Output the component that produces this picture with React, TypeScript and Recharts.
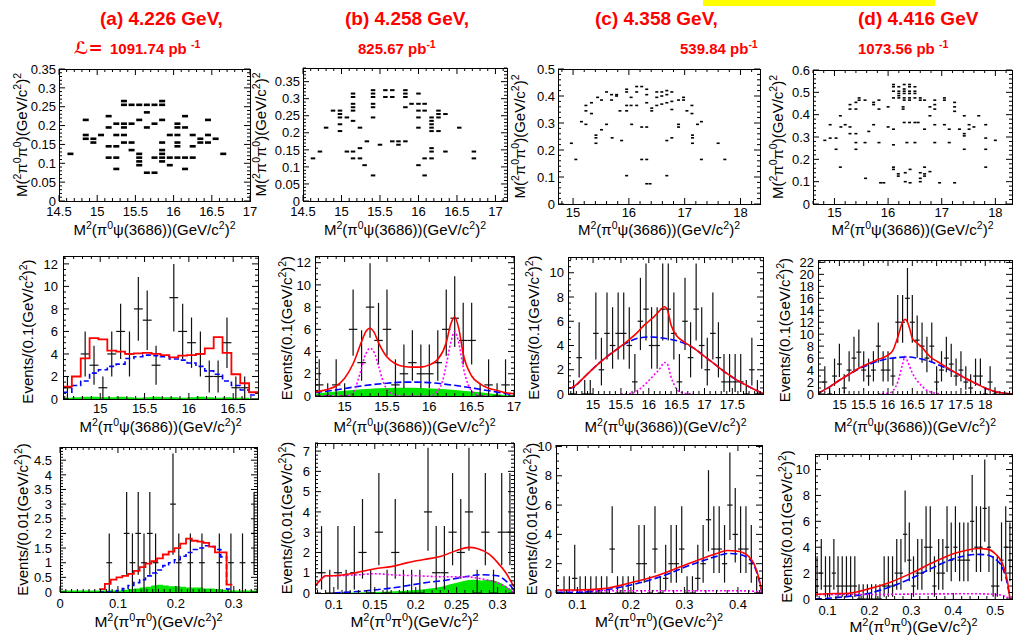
import React from 'react';
import { Area, ComposedChart, ErrorBar, Line, Scatter, XAxis, YAxis } from 'recharts';

const FONT = '"Liberation Sans", Arial, Helvetica, sans-serif';

type XY = [number, number];

// ---------- row 1: Dalitz plots (x = M2(pi0 psi'), y = M2(pi0 pi0)) ----------
const dalitzA: XY[] = [
  [14.65, 0.125], [14.85, 0.215], [14.85, 0.175], [14.85, 0.165], [14.95, 0.165], [14.95, 0.155], [15.05, 0.175],
  [15.15, 0.225], [15.15, 0.195], [15.15, 0.145], [15.15, 0.115],
  [15.25, 0.205], [15.25, 0.175], [15.25, 0.145], [15.25, 0.115], [15.25, 0.085],
  [15.35, 0.265], [15.35, 0.255], [15.35, 0.205], [15.35, 0.195], [15.35, 0.175], [15.35, 0.155],
  [15.45, 0.255], [15.45, 0.205], [15.45, 0.155], [15.45, 0.135],
  [15.55, 0.255], [15.55, 0.215], [15.55, 0.125], [15.55, 0.115], [15.55, 0.105], [15.55, 0.095],
  [15.65, 0.255], [15.65, 0.235], [15.65, 0.195], [15.65, 0.075],
  [15.75, 0.255], [15.75, 0.205], [15.75, 0.115], [15.75, 0.075],
  [15.85, 0.265], [15.85, 0.255], [15.85, 0.215], [15.85, 0.155], [15.85, 0.135], [15.85, 0.125], [15.85, 0.115], [15.85, 0.105],
  [15.95, 0.175], [15.95, 0.115], [15.95, 0.095],
  [16.05, 0.205], [16.05, 0.195], [16.05, 0.175], [16.05, 0.155], [16.05, 0.145], [16.05, 0.115],
  [16.15, 0.225], [16.15, 0.195], [16.15, 0.115], [16.15, 0.085],
  [16.25, 0.175], [16.25, 0.145], [16.25, 0.115], [16.35, 0.165], [16.35, 0.155],
  [16.45, 0.215], [16.45, 0.175], [16.45, 0.155], [16.55, 0.165], [16.65, 0.125],
];

const dalitzB: XY[] = [
  [14.63, 0.125], [14.72, 0.145], [14.8, 0.215], [14.89, 0.265],
  [14.98, 0.265], [14.98, 0.255], [14.98, 0.245], [14.98, 0.225], [14.98, 0.205], [15.07, 0.245], [15.07, 0.145],
  [15.15, 0.315], [15.15, 0.305], [15.15, 0.285], [15.15, 0.275], [15.15, 0.265], [15.15, 0.235], [15.15, 0.145], [15.15, 0.125],
  [15.24, 0.215], [15.24, 0.155], [15.24, 0.125], [15.3, 0.105], [15.33, 0.175],
  [15.41, 0.325], [15.41, 0.315], [15.41, 0.305], [15.41, 0.285], [15.41, 0.275], [15.41, 0.245], [15.41, 0.075],
  [15.5, 0.165], [15.57, 0.325], [15.57, 0.305], [15.66, 0.175], [15.66, 0.325], [15.66, 0.305], [15.74, 0.165], [15.74, 0.175],
  [15.83, 0.325], [15.83, 0.315], [15.83, 0.305], [15.83, 0.275], [15.83, 0.175], [15.91, 0.285],
  [16.0, 0.315], [16.0, 0.285], [16.0, 0.265], [16.0, 0.245], [16.0, 0.215], [16.0, 0.105],
  [16.08, 0.285], [16.08, 0.265], [16.08, 0.125], [16.08, 0.075],
  [16.17, 0.245], [16.17, 0.235], [16.17, 0.225], [16.17, 0.215], [16.17, 0.205], [16.17, 0.155], [16.17, 0.145], [16.17, 0.125],
  [16.26, 0.265], [16.26, 0.255], [16.26, 0.245], [16.26, 0.205], [16.35, 0.255], [16.35, 0.145],
  [16.53, 0.215], [16.72, 0.145], [16.72, 0.125],
];

const dalitzC: XY[] = [
  [14.97, 0.225], [15.05, 0.165], [15.15, 0.305], [15.23, 0.365], [15.23, 0.345], [15.23, 0.295],
  [15.33, 0.375], [15.33, 0.335], [15.41, 0.255], [15.41, 0.245], [15.41, 0.225], [15.44, 0.395],
  [15.51, 0.385], [15.51, 0.275], [15.6, 0.415], [15.6, 0.295], [15.69, 0.405], [15.69, 0.385], [15.7, 0.245],
  [15.78, 0.405], [15.78, 0.4], [15.84, 0.345], [15.87, 0.235],
  [15.96, 0.425], [15.96, 0.415], [15.96, 0.365], [15.96, 0.345], [15.96, 0.105],
  [16.04, 0.395], [16.04, 0.365], [16.05, 0.295], [16.14, 0.435], [16.14, 0.415], [16.14, 0.365],
  [16.23, 0.435], [16.23, 0.285], [16.23, 0.165],
  [16.32, 0.425], [16.32, 0.405], [16.32, 0.375], [16.32, 0.285], [16.32, 0.165], [16.32, 0.075], [16.38, 0.075],
  [16.41, 0.355], [16.41, 0.345], [16.5, 0.415], [16.5, 0.395], [16.5, 0.365],
  [16.59, 0.415], [16.59, 0.4], [16.59, 0.37], [16.68, 0.42], [16.68, 0.405], [16.68, 0.375], [16.68, 0.235], [16.68, 0.105],
  [16.77, 0.415], [16.77, 0.38], [16.77, 0.35], [16.77, 0.245], [16.89, 0.385], [16.89, 0.295], [16.89, 0.285],
  [16.98, 0.395], [16.98, 0.385], [17.04, 0.345], [17.13, 0.365], [17.13, 0.335],
  [17.14, 0.255], [17.14, 0.245], [17.14, 0.225], [17.23, 0.295], [17.3, 0.305], [17.3, 0.165], [17.6, 0.225], [17.72, 0.165],
];

const dalitzD: XY[] = [
  [14.82, 0.285], [14.92, 0.355], [14.92, 0.295], [15.03, 0.295], [15.03, 0.245], [15.11, 0.395], [15.11, 0.165], [15.12, 0.345],
  [15.2, 0.355], [15.29, 0.445], [15.29, 0.425], [15.29, 0.345], [15.29, 0.315],
  [15.4, 0.455], [15.4, 0.425], [15.4, 0.315], [15.4, 0.275], [15.4, 0.245], [15.46, 0.475], [15.46, 0.465],
  [15.57, 0.465], [15.57, 0.275], [15.58, 0.115], [15.64, 0.325], [15.73, 0.455], [15.73, 0.445], [15.73, 0.355],
  [15.83, 0.465], [15.83, 0.425], [15.83, 0.275], [15.86, 0.095], [15.92, 0.095], [16.0, 0.435], [16.0, 0.345],
  [16.1, 0.535], [16.1, 0.525], [16.1, 0.505], [16.1, 0.475],
  [16.2, 0.525], [16.2, 0.505], [16.2, 0.495], [16.2, 0.485], [16.2, 0.475],
  [16.3, 0.535], [16.3, 0.515], [16.3, 0.505], [16.3, 0.495], [16.3, 0.475], [16.3, 0.465],
  [16.4, 0.535], [16.4, 0.525], [16.4, 0.505], [16.4, 0.495], [16.4, 0.475], [16.4, 0.465],
  [16.5, 0.525], [16.5, 0.505], [16.5, 0.495], [16.5, 0.475], [16.6, 0.475], [16.6, 0.465],
  [16.1, 0.335], [16.1, 0.265], [16.1, 0.165], [16.1, 0.155], [16.19, 0.135], [16.19, 0.125], [16.28, 0.435], [16.28, 0.425],
  [16.3, 0.365], [16.4, 0.365], [16.5, 0.365], [16.56, 0.365], [16.32, 0.14], [16.32, 0.1], [16.41, 0.155], [16.41, 0.095],
  [16.35, 0.275], [16.5, 0.275], [16.6, 0.14], [16.6, 0.115], [16.6, 0.1], [16.68, 0.165], [16.68, 0.135], [16.68, 0.125],
  [16.68, 0.465], [16.68, 0.335], [16.78, 0.435], [16.78, 0.395], [16.78, 0.145],
  [16.87, 0.465], [16.87, 0.445], [16.87, 0.425], [16.87, 0.355], [16.87, 0.275], [16.96, 0.095],
  [17.05, 0.475], [17.05, 0.465], [17.05, 0.355], [17.14, 0.335], [17.14, 0.275],
  [17.24, 0.455], [17.24, 0.435], [17.24, 0.415], [17.24, 0.095], [17.33, 0.335],
  [17.42, 0.395], [17.42, 0.315], [17.42, 0.305], [17.42, 0.245], [17.51, 0.355], [17.51, 0.335], [17.6, 0.345], [17.69, 0.395],
  [17.82, 0.355], [17.82, 0.295], [17.82, 0.245], [17.82, 0.165], [18.0, 0.285],
];

// ---------- row 2: M2(pi0 psi') projections ----------
const countsA2: XY[] = [
  [14.63, 1], [14.83, 4], [14.93, 3], [15.03, 1], [15.13, 4], [15.23, 6], [15.33, 4], [15.43, 8], [15.53, 7], [15.63, 3],
  [15.83, 9], [15.93, 6], [16.03, 5], [16.13, 4], [16.23, 2], [16.33, 2], [16.43, 5], [16.53, 1], [16.63, 1],
];
const histStartA2 = 14.58;
const histBinA2 = 0.1;
const totalA2 = [1.1, 2.0, 3.6, 5.4, 5.3, 4.3, 4.2, 4.0, 4.05, 4.1, 4.0, 3.9, 3.7, 3.85, 3.9, 4.0, 4.5, 5.5, 4.1, 2.2, 1.4, 0.6];
const bkgA2 = [0.6, 1.2, 1.6, 2.3, 2.6, 2.9, 3.1, 3.6, 3.75, 3.9, 3.85, 3.75, 3.55, 3.45, 3.2, 2.9, 2.5, 2.2, 1.6, 1.2, 0.8, 0.35];
const greenA2 = [0.1, 0.15, 0.2, 0.2, 0.15, 0.15, 0.2, 0.15, 0.1, 0.15, 0.2, 0.15, 0.15, 0.1, 0.15, 0.2, 0.15, 0.1, 0.15, 0.1, 0.1, 0.05];

const countsB2: XY[] = [
  [14.7, 1], [14.8, 0], [14.9, 1], [15.0, 0], [15.1, 6], [15.2, 3], [15.3, 8], [15.4, 5], [15.5, 6], [15.6, 1], [15.7, 2],
  [15.8, 3], [15.9, 2], [16.0, 2], [16.1, 3], [16.2, 6], [16.3, 7], [16.4, 5], [16.5, 5], [16.6, 0], [16.7, 1], [16.8, 0], [16.9, 1],
];
const totalB2: XY[] = [
  [14.65, 0.35], [14.8, 0.6], [14.9, 0.9], [15.0, 1.6], [15.1, 2.9], [15.2, 4.9], [15.25, 5.8], [15.3, 6.1], [15.35, 5.7],
  [15.4, 4.8], [15.5, 3.5], [15.6, 2.9], [15.7, 2.65], [15.8, 2.6], [15.9, 2.6], [16.0, 2.8], [16.1, 3.3], [16.2, 4.8],
  [16.25, 6.4], [16.3, 7.1], [16.35, 6.0], [16.4, 3.8], [16.5, 1.8], [16.6, 1.1], [16.7, 0.7], [16.8, 0.5], [16.9, 0.3], [17.0, 0.2],
];
const sigB2: XY[] = [
  [14.65, 0], [15.05, 0.05], [15.12, 0.6], [15.18, 2.0], [15.25, 3.8], [15.3, 4.3], [15.35, 3.9], [15.4, 2.7], [15.46, 1.2],
  [15.52, 0.4], [15.6, 0.1], [15.7, 0], [16.0, 0], [16.08, 0.3], [16.15, 1.2], [16.2, 2.8], [16.25, 4.7], [16.3, 5.8],
  [16.35, 4.7], [16.4, 2.6], [16.46, 1.0], [16.52, 0.3], [16.6, 0.05], [16.7, 0],
];
const bkgB2: XY[] = [
  [14.65, 0.3], [14.9, 0.55], [15.1, 0.8], [15.3, 1.0], [15.5, 1.15], [15.7, 1.25], [15.85, 1.25], [16.0, 1.2],
  [16.2, 1.05], [16.4, 0.85], [16.6, 0.6], [16.8, 0.35], [17.0, 0.1],
];
const greenB2: XY[] = [
  [14.65, 0.2], [14.9, 0.4], [15.1, 0.55], [15.3, 0.65], [15.5, 0.72], [15.7, 0.75], [15.9, 0.73], [16.1, 0.65],
  [16.3, 0.55], [16.5, 0.4], [16.7, 0.25], [16.9, 0.1], [17.0, 0.05],
];

const countsC2: XY[] = [
  [14.65, 0], [14.75, 3], [14.85, 0], [14.95, 0], [15.05, 5], [15.15, 2], [15.25, 5], [15.35, 4], [15.45, 5], [15.55, 5],
  [15.65, 4], [15.75, 1], [15.85, 6], [15.95, 7], [16.05, 4], [16.15, 4], [16.25, 7], [16.35, 7], [16.45, 5], [16.55, 1],
  [16.65, 6], [16.75, 3], [16.85, 7], [16.95, 4], [17.05, 2], [17.15, 5], [17.25, 3], [17.35, 1], [17.45, 1], [17.55, 1],
  [17.65, 1], [17.75, 0], [17.85, 2], [17.95, 0],
];
const totalC2: XY[] = [
  [14.55, 0.45], [14.65, 0.6], [14.8, 1.2], [15.0, 2.1], [15.2, 2.9], [15.4, 3.6], [15.6, 4.3], [15.8, 5.1], [15.9, 5.6],
  [16.0, 6.0], [16.1, 6.4], [16.2, 6.9], [16.28, 7.2], [16.33, 7.0], [16.4, 5.7], [16.5, 4.8], [16.6, 4.4], [16.8, 3.8],
  [17.0, 3.1], [17.2, 2.4], [17.4, 1.7], [17.6, 1.1], [17.8, 0.6], [18.0, 0.15], [18.05, 0.05],
];
const bkgC2: XY[] = [
  [14.55, 0.45], [14.65, 0.55], [14.8, 1.2], [15.0, 2.1], [15.2, 2.9], [15.4, 3.6], [15.6, 4.2], [15.8, 4.6], [16.0, 4.7],
  [16.2, 4.65], [16.4, 4.5], [16.6, 4.25], [16.8, 3.8], [17.0, 3.1], [17.2, 2.4], [17.4, 1.7], [17.6, 1.1], [17.8, 0.6], [18.0, 0.15],
];
const sigC2: XY[] = [
  [15.5, 0], [15.7, 0.05], [15.8, 0.3], [16.0, 1.1], [16.1, 1.6], [16.2, 2.1], [16.28, 2.6], [16.33, 2.5], [16.4, 1.4],
  [16.5, 0.4], [16.6, 0.1], [16.8, 0],
];

const countsD2: XY[] = [
  [14.7, 2], [14.8, 0], [14.9, 3], [15.0, 5], [15.1, 1], [15.2, 4], [15.3, 6], [15.4, 7], [15.5, 4], [15.6, 3], [15.7, 4],
  [15.8, 8], [15.9, 4], [16.0, 4], [16.1, 3], [16.2, 12], [16.3, 12], [16.4, 16], [16.5, 12], [16.6, 9], [16.7, 8], [16.8, 6],
  [16.9, 8], [17.0, 2], [17.1, 4], [17.2, 6], [17.3, 5], [17.4, 3], [17.5, 4], [17.6, 2], [17.7, 1], [17.8, 3], [17.9, 3],
  [18.0, 0], [18.1, 2], [18.2, 0],
];
const totalD2: XY[] = [
  [14.56, 0.1], [14.8, 1.2], [15.0, 2.3], [15.2, 3.3], [15.4, 4.3], [15.6, 5.1], [15.8, 5.8], [16.0, 6.5], [16.1, 7.3],
  [16.2, 9.5], [16.3, 12.0], [16.35, 12.5], [16.4, 12.0], [16.45, 10.8], [16.5, 9.3], [16.6, 8.5], [16.7, 7.8], [16.8, 6.8],
  [16.9, 6.0], [17.0, 5.5], [17.2, 4.5], [17.4, 3.5], [17.6, 2.6], [17.8, 1.8], [18.0, 1.0], [18.2, 0.4], [18.4, 0.1], [18.55, 0],
];
const bkgD2: XY[] = [
  [14.56, 0.1], [14.8, 1.2], [15.0, 2.3], [15.2, 3.3], [15.4, 4.2], [15.6, 4.9], [15.8, 5.5], [16.0, 5.9], [16.2, 6.1],
  [16.4, 6.2], [16.6, 6.0], [16.8, 5.6], [17.0, 5.0], [17.2, 4.3], [17.4, 3.5], [17.6, 2.6], [17.8, 1.8], [18.0, 1.0],
  [18.2, 0.4], [18.4, 0.1], [18.55, 0],
];
const sigD2: XY[] = [
  [15.8, 0], [16.0, 0.1], [16.1, 0.5], [16.2, 2.0], [16.3, 5.0], [16.35, 6.3], [16.4, 5.5], [16.5, 3.5], [16.6, 2.2],
  [16.7, 1.3], [16.8, 0.6], [17.0, 0.1], [17.1, 0],
];

// ---------- row 3: M2(pi0 pi0) projections ----------
const countsA3: XY[] = [
  [0.085, 1], [0.115, 2], [0.125, 1], [0.135, 2], [0.145, 1], [0.155, 2], [0.165, 1], [0.195, 3], [0.205, 1],
  [0.225, 1], [0.245, 1], [0.275, 1], [0.295, 1], [0.315, 1], [0.335, 2],
];
const histStartA3 = 0.0675;
const histBinA3 = 0.01;
const totalA3 = [0.1, 0.28, 0.42, 0.5, 0.55, 0.62, 0.72, 0.85, 0.97, 1.05, 1.15, 1.28, 1.38, 1.5, 1.65, 1.82, 1.75, 1.72, 1.68, 1.55, 1.35, 1.35, 0.25];
const bkgA3 = [0, 0, 0, 0.05, 0.12, 0.22, 0.32, 0.42, 0.55, 0.65, 0.75, 0.9, 1.0, 1.1, 1.22, 1.35, 1.45, 1.5, 1.58, 1.55, 1.45, 1.2, 0.1];
const greenA3 = [0.05, 0.05, 0.05, 0.05, 0.08, 0.1, 0.12, 0.15, 0.18, 0.22, 0.25, 0.22, 0.2, 0.2, 0.18, 0.15, 0.15, 0.15, 0.12, 0.12, 0.1, 0.08, 0.05];

const countsB3: XY[] = [
  [0.085, 1], [0.095, 0], [0.105, 1], [0.115, 0], [0.125, 1], [0.135, 2], [0.145, 0], [0.155, 3], [0.165, 0], [0.175, 2],
  [0.185, 0], [0.195, 0], [0.205, 0], [0.215, 4], [0.225, 1], [0.235, 1], [0.245, 3], [0.255, 2], [0.265, 4], [0.275, 0],
  [0.285, 3], [0.295, 0], [0.305, 3], [0.315, 3],
];
const totalB3: XY[] = [
  [0.077, 0.35], [0.085, 0.7], [0.09, 0.85], [0.1, 0.85], [0.12, 0.95], [0.15, 1.2], [0.17, 1.3], [0.19, 1.5], [0.21, 1.65],
  [0.23, 1.8], [0.25, 2.1], [0.265, 2.25], [0.275, 2.2], [0.29, 1.9], [0.3, 1.5], [0.31, 1.0], [0.32, 0.3],
];
const sigB3: XY[] = [
  [0.077, 0.35], [0.085, 0.7], [0.09, 0.85], [0.1, 0.85], [0.13, 0.9], [0.15, 0.95], [0.17, 0.9], [0.2, 0.85], [0.24, 0.8],
  [0.26, 0.8], [0.28, 0.7], [0.3, 0.5], [0.31, 0.3], [0.32, 0.0],
];
const bkgB3: XY[] = [
  [0.1, 0], [0.12, 0.05], [0.15, 0.15], [0.18, 0.3], [0.21, 0.5], [0.24, 0.65], [0.26, 0.8], [0.28, 0.9], [0.3, 0.85],
  [0.31, 0.6], [0.32, 0.15],
];
const greenB3: XY[] = [
  [0.1, 0], [0.15, 0.05], [0.2, 0.15], [0.23, 0.3], [0.25, 0.5], [0.27, 0.65], [0.28, 0.62], [0.29, 0.65], [0.3, 0.55],
  [0.31, 0.35], [0.32, 0.05],
];

const countsC3: XY[] = [
  [0.075, 0], [0.085, 0], [0.095, 1], [0.105, 0], [0.115, 0], [0.125, 0], [0.135, 0], [0.145, 0], [0.155, 0], [0.165, 3],
  [0.175, 0], [0.185, 0], [0.195, 0], [0.205, 0], [0.215, 2], [0.225, 2], [0.235, 0], [0.245, 3], [0.255, 0], [0.265, 1],
  [0.275, 2], [0.285, 2], [0.295, 3], [0.305, 0], [0.315, 0], [0.325, 1], [0.335, 2], [0.345, 5], [0.355, 3], [0.365, 3],
  [0.375, 2], [0.385, 6], [0.395, 4], [0.405, 3], [0.415, 3], [0.425, 2], [0.435, 0],
];
const totalC3: XY[] = [
  [0.06, 0.2], [0.1, 0.2], [0.15, 0.3], [0.2, 0.7], [0.25, 1.2], [0.28, 1.6], [0.3, 1.9], [0.33, 2.3], [0.36, 2.7],
  [0.38, 2.9], [0.4, 2.85], [0.42, 2.5], [0.43, 2.0], [0.44, 0.9], [0.445, 0],
];
const bkgC3: XY[] = [
  [0.06, 0.05], [0.1, 0.05], [0.15, 0.2], [0.2, 0.55], [0.25, 1.05], [0.28, 1.45], [0.3, 1.75], [0.33, 2.15], [0.36, 2.5],
  [0.38, 2.7], [0.4, 2.65], [0.42, 2.35], [0.43, 1.9], [0.44, 0.8], [0.445, 0],
];
const sigC3: XY[] = [[0.06, 0.15], [0.2, 0.15], [0.3, 0.15], [0.4, 0.15], [0.43, 0.12], [0.445, 0]];

const countsD3: XY[] = [
  [0.075, 1], [0.085, 2], [0.095, 1], [0.105, 1], [0.115, 2], [0.125, 1], [0.135, 1], [0.145, 1], [0.155, 1], [0.165, 1],
  [0.175, 0], [0.185, 0], [0.195, 0], [0.205, 0], [0.215, 0], [0.225, 0], [0.235, 1], [0.245, 1], [0.255, 1], [0.265, 2],
  [0.275, 2], [0.285, 5], [0.295, 3], [0.305, 1], [0.315, 2], [0.325, 2], [0.335, 4], [0.345, 4], [0.355, 1], [0.365, 2],
  [0.375, 2], [0.385, 4], [0.395, 3], [0.405, 4], [0.415, 3], [0.425, 3], [0.435, 3], [0.445, 6], [0.455, 4], [0.465, 4],
  [0.475, 7], [0.485, 4], [0.495, 1], [0.505, 1], [0.515, 3], [0.525, 4], [0.535, 3],
];
const totalD3: XY[] = [
  [0.07, 0.35], [0.1, 0.4], [0.15, 0.45], [0.2, 0.8], [0.25, 1.3], [0.3, 2.0], [0.35, 2.8], [0.4, 3.5], [0.43, 3.75],
  [0.46, 3.9], [0.48, 3.85], [0.5, 3.5], [0.52, 2.5], [0.53, 1.2], [0.535, 0],
];
const bkgD3: XY[] = [
  [0.07, 0], [0.1, 0.05], [0.15, 0.2], [0.2, 0.45], [0.25, 0.95], [0.3, 1.6], [0.35, 2.4], [0.4, 3.1], [0.43, 3.35],
  [0.46, 3.45], [0.48, 3.4], [0.5, 3.1], [0.52, 2.2], [0.53, 1.0], [0.535, 0],
];
const sigD3: XY[] = [[0.07, 0.35], [0.2, 0.35], [0.3, 0.38], [0.4, 0.4], [0.46, 0.4], [0.5, 0.35], [0.52, 0.25], [0.535, 0]];

// poisson (low, high) intervals by count, as drawn by the fit frames
const POISSON: XY[] = [
  [0, 1.148], [0.173, 3.3], [0.708, 4.638], [1.367, 5.918], [2.086, 7.163], [2.84, 8.382], [3.62, 9.584], [4.419, 10.77],
  [5.232, 11.95], [6.057, 13.11], [6.891, 14.27], [7.734, 15.42], [8.585, 16.56], [9.441, 17.7], [10.3, 18.83], [11.17, 19.96], [12.04, 21.08],
];
const SQRT_ERR = [0, 1, 1.414, 1.732, 2, 2.236, 2.449, 2.646, 2.828, 3];

// tick labels
const xTicksA1 = [14.5, 15, 15.5, 16, 16.5, 17];
const yTicksA1 = [0, 0.05, 0.1, 0.15, 0.2, 0.25, 0.3, 0.35];
const xTicksC1 = [15, 16, 17, 18];
const yTicksC1 = [0, 0.1, 0.2, 0.3, 0.4, 0.5];
const yTicksD1 = [0, 0.1, 0.2, 0.3, 0.4, 0.5, 0.6];
const xTicksA2 = [15, 15.5, 16, 16.5];
const xTicksB2 = [15, 15.5, 16, 16.5, 17];
const xTicksC2 = [15, 15.5, 16, 16.5, 17, 17.5];
const xTicksD2 = [15, 15.5, 16, 16.5, 17, 17.5, 18];
const yTicks12 = [0, 2, 4, 6, 8, 10, 12];
const yTicks10 = [0, 2, 4, 6, 8, 10];
const yTicks22 = [0, 2, 4, 6, 8, 10, 12, 14, 16, 18, 20, 22];
const xTicksA3 = [0, 0.1, 0.2, 0.3];
const yTicksA3 = [0, 0.5, 1, 1.5, 2, 2.5, 3, 3.5, 4, 4.5];
const xTicksB3 = [0.1, 0.15, 0.2, 0.25, 0.3];
const yTicksB3 = [0, 1, 2, 3, 4, 5, 6, 7];
const xTicksC3 = [0.1, 0.2, 0.3, 0.4];
const xTicksD3 = [0.1, 0.2, 0.3, 0.4, 0.5];

// ---------- helpers ----------
const toPts = (a: XY[]) => a.map(([x, y]) => ({ x, y }));
const fitPts = (a: XY[], hw: number) =>
  a.map(([x, n]) => ({ x, y: n, ex: hw, ey: [n - POISSON[n][0], POISSON[n][1] - n] }));
const histPts = (a: XY[], hw: number) => a.map(([x, n]) => ({ x, y: n, ex: hw, ey: SQRT_ERR[n] }));
const stepPts = (start: number, bin: number, vals: number[]) => [
  ...vals.map((v, i) => ({ x: start + i * bin, y: v })),
  { x: start + vals.length * bin, y: vals[vals.length - 1] },
];

const isMajor = (majors: number[], v: number) => majors.some((m) => Math.abs(m - v) < 1e-9);
function withMinor(domain: [number, number], majors: number[], step: number) {
  const out = [...majors];
  const start = Math.ceil(domain[0] / step - 1e-6) * step;
  for (let v = start; v <= domain[1] + 1e-9; v += step) {
    const r = Math.round(v * 1e6) / 1e6;
    if (!majors.some((m) => Math.abs(m - r) < step / 10)) out.push(r);
  }
  return out.sort((a, b) => a - b);
}

type Frame = { left: number; top: number; width: number; height: number };
const M = { top: 8, right: 8, bottom: 26, left: 46 };

interface PanelProps {
  f: Frame;
  xd: [number, number];
  yd: [number, number];
  xt: number[];
  yt: number[];
  xm: number;
  ym: number;
  xOff: number;
  yOff: number;
  children?: React.ReactNode;
}

function Panel({ f, xd, yd, xt, yt, xm, ym, xOff, yOff, children }: PanelProps) {
  const xTick = (p: any) => {
    const v = p.payload.value as number;
    const major = isMajor(xt, v);
    const len = major ? 6 : 3;
    return (
      <g>
        <line x1={p.x} x2={p.x} y1={p.y} y2={p.y - len} stroke="#000" />
        <line x1={p.x} x2={p.x} y1={p.y - f.height} y2={p.y - f.height + len} stroke="#000" />
        {major && (
          <text x={p.x} y={p.y + xOff} textAnchor="middle" fontSize={13} fontFamily={FONT} fill="#000">
            {String(v)}
          </text>
        )}
      </g>
    );
  };
  const yTick = (p: any) => {
    const v = p.payload.value as number;
    const major = isMajor(yt, v);
    const len = major ? 6 : 3;
    return (
      <g>
        <line x1={p.x} x2={p.x + len} y1={p.y} y2={p.y} stroke="#000" />
        <line x1={p.x + f.width} x2={p.x + f.width - len} y1={p.y} y2={p.y} stroke="#000" />
        {major && (
          <text x={p.x - yOff} y={p.y} dy="0.36em" textAnchor="end" fontSize={13} fontFamily={FONT} fill="#000">
            {String(v)}
          </text>
        )}
      </g>
    );
  };
  // axes need a 1px band to be drawn at all
  const margin = { top: M.top, right: M.right, bottom: M.bottom - 1, left: M.left - 1 };
  return (
    <div style={{ position: 'absolute', left: f.left - M.left, top: f.top - M.top }}>
      <ComposedChart width={f.width + M.left + M.right} height={f.height + M.top + M.bottom} margin={margin}>
        <XAxis
          type="number"
          dataKey="x"
          domain={xd}
          allowDataOverflow
          ticks={withMinor(xd, xt, xm)}
          interval={0}
          height={1}
          axisLine={false}
          tickLine={false}
          tickSize={0}
          tickMargin={0}
          tick={xTick}
        />
        <YAxis
          type="number"
          dataKey="y"
          domain={yd}
          allowDataOverflow
          ticks={withMinor(yd, yt, ym)}
          interval={0}
          width={1}
          axisLine={false}
          tickLine={false}
          tickSize={0}
          tickMargin={0}
          tick={yTick}
        />
        {children}
      </ComposedChart>
      <div
        style={{
          position: 'absolute',
          left: M.left,
          top: M.top,
          width: f.width + 1,
          height: f.height + 1,
          border: '1px solid #000',
          boxSizing: 'border-box',
          pointerEvents: 'none',
        }}
      />
    </div>
  );
}

const noShape = () => <g />;
const box = (w: number, h: number) => (p: any) => (
  <rect x={p.cx - w / 2} y={p.cy - h / 2} width={w} height={h} fill="#000" />
);

function dalitz(data: XY[], w: number, h: number) {
  return <Scatter data={toPts(data)} dataKey="y" shape={box(w, h)} isAnimationActive={false} legendType="none" />;
}

function crosses(key: string, data: object[]) {
  return (
    <Scatter key={key} data={data} dataKey="y" shape={noShape} isAnimationActive={false} legendType="none">
      <ErrorBar dataKey="ex" direction="x" width={0} stroke="#111" strokeWidth={1.2} />
      <ErrorBar dataKey="ey" direction="y" width={0} stroke="#111" strokeWidth={1.2} />
    </Scatter>
  );
}

function curve(key: string, data: object[], stroke: string, dash?: string, type: any = 'monotone', w = 1.6) {
  return (
    <Line
      key={key}
      data={data}
      dataKey="y"
      type={type}
      stroke={stroke}
      strokeWidth={w}
      strokeDasharray={dash}
      dot={false}
      activeDot={false}
      isAnimationActive={false}
      legendType="none"
    />
  );
}

function fill(key: string, data: object[], type: any = 'monotone') {
  return (
    <Area
      key={key}
      data={data}
      dataKey="y"
      type={type}
      stroke="none"
      fill="#00e600"
      fillOpacity={1}
      isAnimationActive={false}
      legendType="none"
    />
  );
}

const RED = '#ff0000';
const BLUE = '#0000ff';
const MAGENTA = '#ff00ff';
const DASH = '7 3';
const DOT = '2 2';

function Rich({ text, x, y, size, anchor = 'middle', rotate = false, fill = '#000', weight = 400 }: any) {
  const parts: string[] = text.split(/(\^\{[^}]*\}|\^.)/).filter(Boolean);
  const shift = size * 0.38;
  let raised = false;
  const spans = parts.map((s, i) => {
    if (s.startsWith('^')) {
      const body = s.startsWith('^{') ? s.slice(2, -1) : s.slice(1);
      const el = (
        <tspan key={i} dy={raised ? 0 : -shift} fontSize={size * 0.7}>
          {body}
        </tspan>
      );
      raised = true;
      return el;
    }
    const el = (
      <tspan key={i} dy={raised ? shift : 0}>
        {s}
      </tspan>
    );
    raised = false;
    return el;
  });
  return (
    <text
      x={x}
      y={y}
      fontSize={size}
      fontFamily={FONT}
      fontWeight={weight}
      textAnchor={anchor}
      fill={fill}
      transform={rotate ? `rotate(-90 ${x} ${y})` : undefined}
    >
      {spans}
    </text>
  );
}

// plot frames (page pixels)
const fA1: Frame = { left: 59, top: 69, width: 191, height: 132 };
const fB1: Frame = { left: 303, top: 68, width: 204, height: 133 };
const fC1: Frame = { left: 558, top: 69, width: 202, height: 135 };
const fD1: Frame = { left: 813, top: 70, width: 199, height: 134 };
const fA2: Frame = { left: 63, top: 256, width: 195, height: 143 };
const fB2: Frame = { left: 315, top: 256, width: 199, height: 140 };
const fC2: Frame = { left: 568, top: 257, width: 195, height: 137 };
const fD2: Frame = { left: 818, top: 260, width: 194, height: 134 };
const fA3: Frame = { left: 60, top: 447, width: 197, height: 145 };
const fB3: Frame = { left: 315, top: 443, width: 199, height: 150 };
const fC3: Frame = { left: 556, top: 445, width: 206, height: 148 };
const fD3: Frame = { left: 815, top: 454, width: 197, height: 145 };

const X1 = 'M^2(π^0ψ(3686))(GeV/c^2)^2';
const X3 = 'M^2(π^0π^0)(GeV/c^2)^2';
const Y1 = 'M(^2π^0π^0)(GeV/c^2)^2';
const Y2 = 'Events/(0.1(GeV/c^2)^2)';
const Y3 = 'Events/(0.01(GeV/c^2)^2)';

export default function App() {
  const cx = (f: Frame) => f.left + f.width / 2;
  const cy = (f: Frame) => f.top + f.height / 2;
  return (
    <div style={{ position: 'relative', width: 1015, height: 636, overflow: 'hidden', background: '#fff' }}>
      <style>{'html,body{margin:0;padding:0;background:#fff}'}</style>
      <div style={{ position: 'absolute', left: 703, top: 0, width: 232, height: 6, background: '#ffff00' }} />

      {/* row 1 */}
      <Panel f={fA1} xd={[14.5, 17]} yd={[0, 0.35]} xt={xTicksA1} yt={yTicksA1} xm={0.1} ym={0.01} xOff={15} yOff={3}>
        {dalitz(dalitzA, 6, 2.6)}
      </Panel>
      <Panel f={fB1} xd={[14.5, 17.15]} yd={[0, 0.39]} xt={xTicksA1} yt={yTicksA1} xm={0.1} ym={0.01} xOff={15} yOff={3}>
        {dalitz(dalitzB, 4.5, 2)}
      </Panel>
      <Panel f={fC1} xd={[14.73, 18.35]} yd={[0, 0.5]} xt={xTicksC1} yt={yTicksC1} xm={0.2} ym={0.02} xOff={13} yOff={3}>
        {dalitz(dalitzC, 3, 1.6)}
      </Panel>
      <Panel f={fD1} xd={[14.6, 18.31]} yd={[0, 0.6]} xt={xTicksC1} yt={yTicksD1} xm={0.2} ym={0.02} xOff={13} yOff={3}>
        {dalitz(dalitzD, 3, 1.6)}
      </Panel>

      {/* row 2 */}
      <Panel f={fA2} xd={[14.58, 16.78]} yd={[0, 12.7]} xt={xTicksA2} yt={yTicks12} xm={0.1} ym={0.5} xOff={14} yOff={5}>
        {fill('g', stepPts(histStartA2, histBinA2, greenA2), 'stepAfter')}
        {crosses('d', histPts(countsA2, 0.05))}
        {curve('b', stepPts(histStartA2, histBinA2, bkgA2), BLUE, '5 3', 'stepAfter')}
        {curve('r', stepPts(histStartA2, histBinA2, totalA2), RED, undefined, 'stepAfter', 1.8)}
      </Panel>
      <Panel f={fB2} xd={[14.65, 17.0]} yd={[0, 12.6]} xt={xTicksB2} yt={yTicks12} xm={0.1} ym={0.5} xOff={15} yOff={4}>
        {fill('g', toPts(greenB2))}
        {crosses('d', fitPts(countsB2, 0.05))}
        {curve('b', toPts(bkgB2), BLUE, DASH)}
        {curve('m', toPts(sigB2), MAGENTA, DOT)}
        {curve('r', toPts(totalB2), RED)}
      </Panel>
      <Panel f={fC2} xd={[14.55, 18.05]} yd={[0, 11.3]} xt={xTicksC2} yt={yTicks10} xm={0.1} ym={0.5} xOff={15} yOff={4}>
        {crosses('d', fitPts(countsC2, 0.05))}
        {curve('b', toPts(bkgC2), BLUE, DASH)}
        {curve('m', toPts(sigC2), MAGENTA, DOT)}
        {curve('r', toPts(totalC2), RED)}
      </Panel>
      <Panel f={fD2} xd={[14.56, 18.55]} yd={[0, 22.4]} xt={xTicksD2} yt={yTicks22} xm={0.1} ym={1} xOff={15} yOff={4}>
        {crosses('d', fitPts(countsD2, 0.05))}
        {curve('b', toPts(bkgD2), BLUE, DASH)}
        {curve('m', toPts(sigD2), MAGENTA, DOT)}
        {curve('r', toPts(totalD2), RED)}
      </Panel>

      {/* row 3 */}
      <Panel f={fA3} xd={[0, 0.34]} yd={[0, 4.95]} xt={xTicksA3} yt={yTicksA3} xm={0.01} ym={0.1} xOff={16} yOff={8}>
        {fill('g', [{ x: 0, y: 0.05 }, ...stepPts(histStartA3, histBinA3, greenA3), { x: 0.34, y: 0.05 }], 'stepAfter')}
        {crosses('d', histPts(countsA3, 0.005))}
        {curve('b', stepPts(histStartA3, histBinA3, bkgA3), BLUE, '5 3', 'stepAfter')}
        {curve('r', stepPts(histStartA3, histBinA3, totalA3), RED, undefined, 'stepAfter', 1.8)}
      </Panel>
      <Panel f={fB3} xd={[0.077, 0.32]} yd={[0, 7.4]} xt={xTicksB3} yt={yTicksB3} xm={0.01} ym={0.2} xOff={16} yOff={5}>
        {fill('g', toPts(greenB3))}
        {crosses('d', fitPts(countsB3, 0.005))}
        {curve('b', toPts(bkgB3), BLUE, DASH)}
        {curve('m', toPts(sigB3), MAGENTA, DOT)}
        {curve('r', toPts(totalB3), RED)}
      </Panel>
      <Panel f={fC3} xd={[0.06, 0.445]} yd={[0, 10.1]} xt={xTicksC3} yt={yTicks10} xm={0.02} ym={0.5} xOff={16} yOff={4}>
        {crosses('d', fitPts(countsC3, 0.005))}
        {curve('b', toPts(bkgC3), BLUE, DASH)}
        {curve('m', toPts(sigC3), MAGENTA, DOT)}
        {curve('r', toPts(totalC3), RED)}
      </Panel>
      <Panel f={fD3} xd={[0.07, 0.54]} yd={[0, 11.2]} xt={xTicksD3} yt={yTicks10} xm={0.02} ym={0.5} xOff={16} yOff={5}>
        {crosses('d', fitPts(countsD3, 0.005))}
        {curve('b', toPts(bkgD3), BLUE, DASH)}
        {curve('m', toPts(sigD3), MAGENTA, DOT)}
        {curve('r', toPts(totalD3), RED)}
      </Panel>

      <svg width={1015} height={636} style={{ position: 'absolute', left: 0, top: 0, pointerEvents: 'none' }}>
        {/* energy / luminosity headers */}
        <text x={100} y={25} fontSize={19} fontFamily={FONT} fontWeight={700} fill={RED}>(a) 4.226 GeV,</text>
        <text x={345} y={25} fontSize={19} fontFamily={FONT} fontWeight={700} fill={RED}>(b) 4.258 GeV,</text>
        <text x={595} y={25} fontSize={19} fontFamily={FONT} fontWeight={700} fill={RED}>(c) 4.358 GeV,</text>
        <text x={858} y={25} fontSize={19} fontFamily={FONT} fontWeight={700} fill={RED}>(d) 4.416 GeV</text>
        <text x={74} y={54} fontSize={17} fontFamily={'"DejaVu Sans", sans-serif'} fontStyle="italic" fontWeight={700} fill={RED}>ℒ=</text>
        <Rich text="1091.74 pb ^{-1}" x={110} y={54} size={15} anchor="start" fill={RED} weight={700} />
        <Rich text="825.67 pb^{-1}" x={358} y={54} size={15} anchor="start" fill={RED} weight={700} />
        <Rich text="539.84 pb^{-1}" x={680} y={54} size={15} anchor="start" fill={RED} weight={700} />
        <Rich text="1073.56 pb ^{-1}" x={858} y={54} size={15} anchor="start" fill={RED} weight={700} />

        {/* axis titles */}
        <Rich text={X1} x={cx(fA1)} y={235} size={15} />
        <Rich text={X1} x={cx(fB1)} y={235} size={15} />
        <Rich text={X1} x={cx(fC1)} y={235} size={15} />
        <Rich text={X1} x={cx(fD1)} y={235} size={15} />
        <Rich text={X1} x={cx(fA2)} y={432} size={15} />
        <Rich text={X1} x={cx(fB2)} y={432} size={15} />
        <Rich text={X1} x={cx(fC2)} y={432} size={15} />
        <Rich text={X1} x={cx(fD2)} y={432} size={15} />
        <Rich text={X3} x={cx(fA3)} y={627} size={15.5} />
        <Rich text={X3} x={cx(fB3)} y={627} size={15.5} />
        <Rich text={X3} x={cx(fC3)} y={627} size={15.5} />
        <Rich text={X3} x={cx(fD3)} y={632} size={15.5} />

        <Rich text={Y1} x={27} y={cy(fA1)} size={15} rotate />
        <Rich text={Y1} x={266} y={cy(fB1)} size={15} rotate />
        <Rich text={Y1} x={525} y={cy(fC1)} size={15} rotate />
        <Rich text={Y1} x={783} y={cy(fD1)} size={15} rotate />
        <Rich text={Y2} x={33} y={cy(fA2) + 4} size={15} rotate />
        <Rich text={Y2} x={292} y={cy(fB2) + 2} size={15} rotate />
        <Rich text={Y2} x={539} y={cy(fC2) + 2} size={15} rotate />
        <Rich text={Y2} x={790} y={cy(fD2) + 3} size={15} rotate />
        <Rich text={Y3} x={28} y={cy(fA3)} size={15} rotate />
        <Rich text={Y3} x={292} y={cy(fB3)} size={15} rotate />
        <Rich text={Y3} x={537} y={cy(fC3)} size={15} rotate />
        <Rich text={Y3} x={792} y={cy(fD3)} size={15} rotate />
      </svg>
    </div>
  );
}
